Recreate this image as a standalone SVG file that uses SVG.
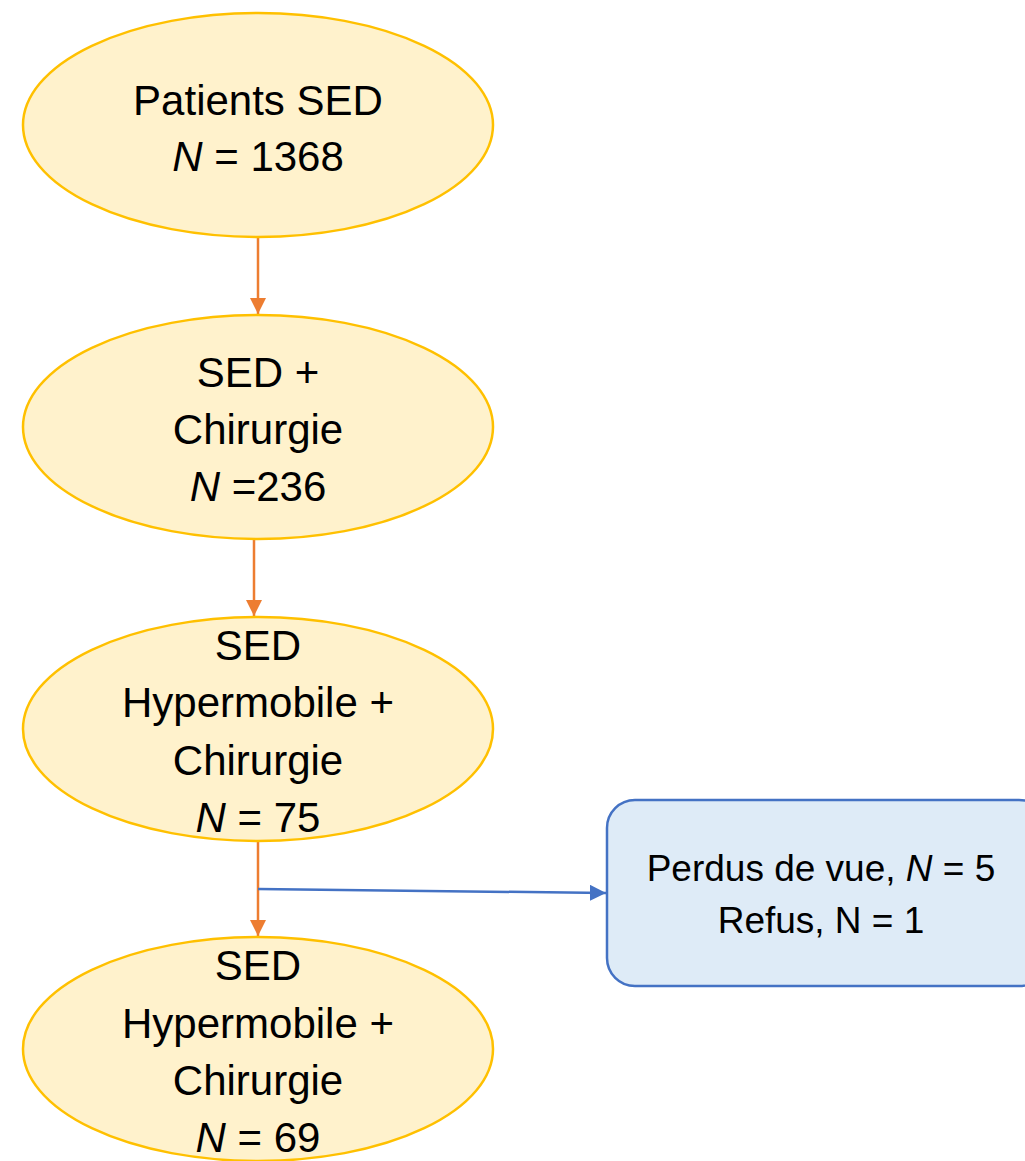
<svg xmlns="http://www.w3.org/2000/svg" width="1025" height="1161" viewBox="0 0 1025 1161">
<style>
.ell{fill:#FFF2CC;stroke:#FFC000;stroke-width:2.5}
.box{fill:#DEEBF7;stroke:#4472C4;stroke-width:2.5}
.t{font-family:"Liberation Sans",Arial,sans-serif;font-size:42px;fill:#000;text-anchor:middle}
.s{font-family:"Liberation Sans",Arial,sans-serif;font-size:37px;fill:#000;text-anchor:middle}
.o{stroke:#ED7D31;stroke-width:2.5;fill:none}
.b{stroke:#4472C4;stroke-width:2.5;fill:none}
</style>
<defs>
<marker id="ao" viewBox="0 0 10 10" refX="10" refY="5" markerWidth="6.5" markerHeight="6.5" orient="auto" markerUnits="strokeWidth"><path d="M0,0L10,5L0,10z" fill="#ED7D31"/></marker>
<marker id="ab" viewBox="0 0 10 10" refX="10" refY="5" markerWidth="6.5" markerHeight="6.5" orient="auto" markerUnits="strokeWidth"><path d="M0,0L10,5L0,10z" fill="#4472C4"/></marker>
</defs>
<rect width="1025" height="1161" fill="#fff"/>
<g id="connectors">
<line class="o" x1="258" y1="237" x2="258" y2="314" marker-end="url(#ao)"/>
<line class="o" x1="254" y1="539" x2="254" y2="616" marker-end="url(#ao)"/>
<line class="o" x1="258" y1="842" x2="258" y2="936" marker-end="url(#ao)"/>
<line class="b" x1="258" y1="889" x2="606" y2="893" marker-end="url(#ab)"/>
</g>
<g id="n1">
<ellipse class="ell" cx="258" cy="125" rx="235" ry="112"/>
<text class="t" x="258" y="115">Patients SED</text>
<text class="t" x="258" y="171"><tspan font-style="italic">N</tspan> = 1368</text>
</g>
<g id="n2">
<ellipse class="ell" cx="258" cy="427" rx="235" ry="112"/>
<text class="t" x="258" y="387">SED +</text>
<text class="t" x="258" y="444">Chirurgie</text>
<text class="t" x="258" y="501"><tspan font-style="italic">N</tspan> =236</text>
</g>
<g id="n3">
<ellipse class="ell" cx="258" cy="729" rx="235" ry="112"/>
<text class="t" x="258" y="660">SED</text>
<text class="t" x="258" y="717">Hypermobile +</text>
<text class="t" x="258" y="775">Chirurgie</text>
<text class="t" x="258" y="832"><tspan font-style="italic">N</tspan> = 75</text>
</g>
<g id="n4">
<ellipse class="ell" cx="258" cy="1049" rx="235" ry="112"/>
<text class="t" x="258" y="980">SED</text>
<text class="t" x="258" y="1038">Hypermobile +</text>
<text class="t" x="258" y="1095">Chirurgie</text>
<text class="t" x="258" y="1152"><tspan font-style="italic">N</tspan> = 69</text>
</g>
<g id="n5">
<rect class="box" x="607" y="800" width="440" height="186" rx="28"/>
<text class="s" x="821" y="881">Perdus de vue, <tspan font-style="italic">N</tspan> = 5</text>
<text class="s" x="821" y="933">Refus, N = 1</text>
</g>
</svg>
